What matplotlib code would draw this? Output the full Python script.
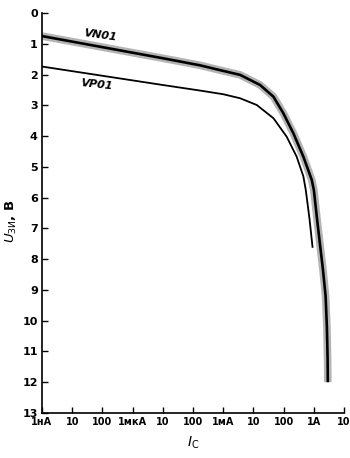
import matplotlib
matplotlib.use("Agg")
import matplotlib.pyplot as plt
import numpy as np

# Data (current in A, voltage in V)
vn01_current = [1e-9, 1e-8, 1e-7, 1e-6, 1e-5, 1.7e-4, 6e-4, 3.6e-3, 1.66e-2, 4.6e-2,
                9.8e-2, 0.21, 0.45, 0.85, 1.0, 1.32, 2.0, 2.45, 2.7, 2.85, 2.9]
vn01_voltage = [0.75, 0.93, 1.11, 1.29, 1.47, 1.70, 1.83, 2.01, 2.34, 2.72,
                3.26, 3.91, 4.67, 5.42, 5.75, 6.82, 8.34, 9.2, 10.2, 11.2, 12.0]

vp01_current = [1e-9, 1e-8, 1e-7, 1e-6, 1e-5, 1.7e-4, 1e-3, 3.6e-3, 1.29e-2, 4.6e-2,
                0.126, 0.27, 0.45, 0.54, 0.72, 0.91]
vp01_voltage = [1.74, 1.89, 2.04, 2.19, 2.34, 2.52, 2.64, 2.77, 2.99, 3.42,
                4.02, 4.67, 5.31, 5.75, 6.7, 7.63]

x_ticks = [1e-9, 1e-8, 1e-7, 1e-6, 1e-5, 1e-4, 1e-3, 1e-2, 1e-1, 1, 10]
x_tick_labels = ["1нА", "10", "100", "1мкА", "10", "100", "1мА", "10", "100", "1А", "10"]
y_ticks = list(range(0, 14))

fig = plt.figure(figsize=(3.5, 4.58), dpi=100)
ax = fig.add_axes([0.12, 0.0983, 0.863, 0.8733])

ax.set_xscale("log")
ax.set_xlim(1e-9, 10)
ax.set_ylim(13, 0)

# VN01: gray band with black line
ax.plot(vn01_current, vn01_voltage, color="#b4b4b4", lw=5.5, solid_capstyle="butt",
        solid_joinstyle="round")
ax.plot(vn01_current, vn01_voltage, color="black", lw=1.9, solid_capstyle="butt",
        solid_joinstyle="round")
# VP01
ax.plot(vp01_current, vp01_voltage, color="black", lw=1.3, solid_capstyle="butt",
        solid_joinstyle="round")

ax.spines["top"].set_visible(False)
ax.spines["right"].set_visible(False)
ax.spines["left"].set_linewidth(1.2)
ax.spines["bottom"].set_linewidth(1.2)

ax.set_xticks(x_ticks)
ax.set_xticklabels(x_tick_labels, fontsize=7, fontweight="bold")
ax.minorticks_off()
ax.set_yticks(y_ticks)
ax.set_yticklabels([str(v) for v in y_ticks], fontsize=8, fontweight="bold")
ax.tick_params(direction="in", length=4, width=1.0, pad=3)

ax.text(8.3e-8, 0.74, "VN01", fontsize=8, fontweight="bold", style="italic",
        rotation=-8, ha="center", va="center")
ax.text(6.6e-8, 2.32, "VP01", fontsize=8, fontweight="bold", style="italic",
        rotation=-6, ha="center", va="center")

ax.set_ylabel(r"$U_{\mathrm{ЗИ}}$, В", fontsize=9.5, fontweight="bold")
ax.yaxis.set_label_coords(-0.076, 0.48)
ax.set_xlabel(r"$I_{\mathrm{C}}$", fontsize=10)
ax.xaxis.set_label_coords(0.5, -0.055)

fig.savefig("out.png", dpi=100)
